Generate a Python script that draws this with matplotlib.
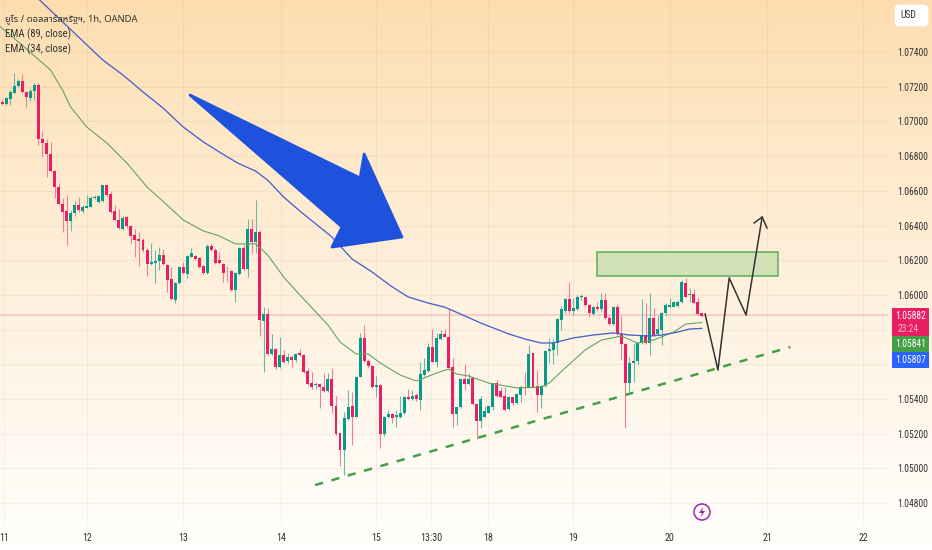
import numpy as np
import matplotlib
matplotlib.use('Agg')
import matplotlib.pyplot as plt
from matplotlib.patches import Polygon, Rectangle, FancyBboxPatch, Circle

# candles, price in 1e-5 units
opens = [107110,107098,107131,107166,107202,107233,107168,107135,107175,107212,
    106901,106878,106812,106716,106624,106524,106484,106426,106470,106518,
    106484,106503,106509,106559,106538,106540,106632,106582,106484,106432,
    106380,106447,106399,106345,106321,106317,106261,106178,106186,106194,
    106230,106173,106090,105971,106067,106163,106121,106221,106226,106211,
    106167,106125,106284,106259,106201,106178,106134,106138,106029,106121,
    106272,106150,106382,106307,106365,105852,105890,105660,105691,105587,
    105656,105620,105644,105625,105664,105656,105560,105495,105479,105489,
    105472,105447,105514,105360,105203,105107,105283,105360,105299,105529,
    105750,105618,105593,105468,105479,105197,105299,105314,105295,105299,
    105318,105410,105399,105424,105395,105537,105562,105702,105616,105747,
    105775,105760,105583,105314,105352,105514,105485,105520,105372,105274,
    105299,105322,105356,105491,105449,105418,105341,105410,105376,105424,
    105472,105468,105664,105475,105423,105475,105677,105683,105725,105855,
    105907,105975,105909,105917,105988,105986,105944,105890,105928,105917,
    105971,105867,105832,105928,105775,105717,105494,105606,105617,105721,
    105769,105721,105869,105773,105798,105894,105932,105932,105936,105957,
    106071,106000,106003,105959,105894]
closes = [107098,107137,107170,107204,107233,107172,107139,107177,107212,106899,
    106874,106810,106716,106624,106522,106478,106426,106474,106518,106490,
    106507,106515,106561,106564,106570,106632,106576,106480,106432,106384,
    106443,106397,106342,106317,106313,106259,106176,106192,106198,106230,
    106176,106086,105975,106071,106163,106125,106226,106240,106207,106163,
    106125,106284,106259,106186,106186,106125,106130,106029,106125,106269,
    106150,106380,106307,106365,105856,105890,105658,105689,105587,105656,
    105616,105641,105625,105660,105654,105556,105487,105472,105489,105472,
    105447,105514,105360,105199,105107,105289,105356,105299,105529,105750,
    105620,105591,105468,105479,105197,105299,105312,105291,105308,105318,
    105414,105399,105418,105399,105543,105568,105698,105616,105750,105775,
    105760,105581,105314,105356,105516,105485,105514,105372,105274,105400,
    105333,105360,105491,105418,105410,105337,105414,105376,105429,105472,
    105468,105660,105472,105424,105475,105679,105686,105731,105859,105917,
    105975,105907,105923,105986,105994,105942,105894,105932,105917,105971,
    105867,105832,105928,105775,105717,105494,105606,105621,105721,105769,
    105721,105869,105769,105802,105898,105940,105940,105961,105961,106076,
    105990,106003,105955,105890,105878]
highs = [107129,107143,107181,107281,107243,107271,107172,107185,107220,107223,
    106947,106897,106883,106720,106643,106557,106576,106490,106543,106566,
    106518,106576,106570,106576,106576,106634,106636,106601,106518,106493,
    106455,106455,106403,106378,106365,106326,106269,106297,106259,106274,
    106263,106178,106163,106077,106167,106192,106230,106269,106230,106217,
    106173,106294,106297,106269,106249,106186,106167,106144,106132,106278,
    106288,106436,106436,106547,106374,105933,105923,105775,105693,105760,
    105683,105664,105654,105664,105687,105660,105577,105558,105499,105491,
    105548,105548,105581,105418,105207,105328,105452,105443,105533,105779,
    105827,105629,105597,105533,105485,105303,105337,105322,105337,105418,
    105418,105456,105452,105433,105616,105635,105721,105802,105779,105798,
    105802,105923,105635,105360,105520,105602,105548,105523,105376,105418,
    105360,105366,105495,105510,105472,105468,105418,105414,105437,105481,
    105558,105712,105668,105567,105481,105683,105750,105744,105865,105936,
    105980,106076,105980,106000,106003,105990,105948,105936,105961,106009,
    106009,105884,105932,105948,105878,105721,105644,105721,105725,105975,
    105955,106009,105923,105884,105903,105951,105980,105967,105971,106086,
    106096,106038,106032,105986,105898]
lows = [107095,107095,107095,107162,107196,107162,107085,107120,107123,106864,
    106793,106682,106710,106557,106518,106365,106288,106370,106455,106480,
    106470,106499,106505,106551,106532,106538,106563,106474,106428,106380,
    106374,106384,106297,106221,106167,106249,106109,106173,106067,106144,
    106171,106019,105971,105956,106063,106121,106096,106217,106201,106153,
    106121,106121,106255,106178,106178,106077,106077,106025,105961,106115,
    106144,106105,106244,106244,105764,105558,105654,105656,105572,105577,
    105610,105610,105587,105616,105648,105552,105481,105456,105456,105347,
    105441,105441,105322,105193,105014,104963,105280,105135,105295,105525,
    105616,105577,105462,105414,105120,105187,105289,105260,105237,105289,
    105314,105395,105395,105391,105337,105533,105558,105612,105587,105741,
    105756,105577,105237,105251,105347,105452,105481,105366,105168,105231,
    105295,105318,105337,105414,105404,105333,105337,105366,105372,105385,
    105424,105462,105462,105327,105346,105471,105606,105602,105654,105798,
    105894,105894,105884,105913,105971,105938,105875,105884,105909,105909,
    105863,105827,105827,105769,105625,105235,105442,105500,105596,105717,
    105717,105654,105763,105769,105711,105884,105928,105928,105932,105951,
    105986,105961,105951,105884,105875]

# moving averages (bar index, price)
ema89_x = [9,25,30,35,40,45,50,56,59,63,66,70,74,82,87,92,97,101,106,110,114,119,126,130,134,137,142,147,152,156,161,164,168,171,174]
ema89_y = [107706,107354,107268,107170,107077,106968,106882,106795,106755,106714,106662,106564,106484,106334,106207,106132,106046,105988,105953,105930,105890,105838,105775,105746,105723,105723,105752,105769,105781,105769,105763,105769,105786,105804,105807]
ema34_x = [-1,4,12,15,17,21,26,31,36,41,45,50,54,58,63,66,70,74,81,84,88,91,94,99,103,108,111,113,116,121,128,134,136,140,145,149,154,158,162,167,170,174]
ema34_y = [107556,107458,107297,107181,107083,106968,106876,106760,106622,106518,106432,106369,106340,106294,106294,106230,106103,106000,105827,105729,105660,105660,105608,105538,105504,105550,105573,105544,105533,105492,105464,105469,105492,105579,105683,105740,105763,105723,105740,105786,105832,105841]

price_ticks = [1.048,1.05,1.052,1.054,1.056,1.058,1.06,1.062,1.064,1.066,1.068,1.07,1.072,1.074]
date_pos = [0.5,21.1,45,69.3,93,106.7,120.8,142,166,190.2,214.1]
date_labels = ['11','12','13','14','15','13:30','18','19','20','21','22']

# drawings on the chart
arrow_x = [46.7,89,90,99.4,82,84.5]
arrow_y = [1.07152,1.06674,1.06812,1.06334,1.06276,1.06392]
zone_x = [148,193]
zone_y = [1.06109,1.06247]
path_x = [174.8,178,180.8,185,189]
path_y = [1.05890,1.05567,1.06098,1.05884,1.06449]
head_x = [187,189,190.2]
head_y = [1.06415,1.06449,1.06386]
trend_x = [77.8,196]
trend_y = [1.04904,1.05700]
last_price = 1.05882

plt.rcParams['font.family'] = ['Roboto Condensed', 'Roboto', 'Noto Sans', 'DejaVu Sans']

UP = '#089a88'
DOWN = '#e91e63'
UP_WICK = '#6db8a8'
DOWN_WICK = '#ee7f9f'
TEXT = '#333333'
SCALE_SIZE = 6.9

fig = plt.figure(figsize=(9.32, 5.5), dpi=100)

# page gradient behind everything
bg = fig.add_axes([0, 0, 1, 1], zorder=0)
rows = np.arange(550)
stops = [0, 140, 280, 400, 549]
rgb = np.zeros((550, 1, 3))
rgb[:, 0, 0] = np.interp(rows, stops, [253, 254, 254, 255, 255])
rgb[:, 0, 1] = np.interp(rows, stops, [221, 232, 240, 247, 255])
rgb[:, 0, 2] = np.interp(rows, stops, [175, 200, 220, 235, 253])
bg.imshow(rgb / 255, aspect='auto')
bg.axis('off')

ax = fig.add_axes([0, 25 / 550, 888 / 932, 525 / 550], zorder=1)
ax.patch.set_alpha(0)
ax.set_xlim(-0.57, 220.3)
ax.set_ylim(1.04674, 1.0770)
for s in ax.spines.values():
    s.set_visible(False)

ax.yaxis.tick_right()
ax.set_yticks(price_ticks)
# 1.05800 sits fully behind the price tags
ax.set_yticklabels(['' if p == 1.058 else '%.5f' % p for p in price_ticks])
ax.tick_params(axis='y', length=0, pad=6.5, labelsize=SCALE_SIZE, labelcolor=TEXT)
ax.set_xticks(date_pos)
ax.set_xticklabels(date_labels)
ax.tick_params(axis='x', length=0, pad=5.5, labelsize=7.2, labelcolor=TEXT)
ax.grid(True, color='#b08a5a', alpha=0.10, lw=0.8)
ax.set_axisbelow(True)

o = np.array(opens) / 1e5
c = np.array(closes) / 1e5
h = np.array(highs) / 1e5
l = np.array(lows) / 1e5
idx = np.arange(len(o))
up = c >= o

ax.axhline(last_price, color='#f4c4bb', lw=1.1, zorder=1.5)
ax.vlines(idx, l, h, colors=np.where(up, UP_WICK, DOWN_WICK), lw=0.8, zorder=2)
ax.bar(idx, np.abs(c - o), bottom=np.minimum(o, c), width=0.74,
       color=np.where(up, UP, DOWN), zorder=3)

ax.plot(ema34_x, np.array(ema34_y) / 1e5, color='#62a463', lw=0.8, zorder=4)
ax.plot(ema89_x, np.array(ema89_y) / 1e5, color='#4763c9', lw=0.95, zorder=4)

ax.add_patch(Polygon(np.column_stack([arrow_x, arrow_y]), closed=True, fc='#1f52dc',
                     ec='#1f52dc', lw=2, joinstyle='round', zorder=5))
ax.add_patch(Rectangle((zone_x[0], zone_y[0]), zone_x[1] - zone_x[0], zone_y[1] - zone_y[0],
                       fc='#cfe0b4', ec='#55ac5a', lw=1.1, alpha=0.95, zorder=5))
ax.plot(trend_x, trend_y, color='#43a047', lw=1.8, ls=(0, (3.3, 3.5)), zorder=5)
ax.plot(path_x, path_y, color='#333333', lw=1.1, zorder=6)
ax.plot(head_x, head_y, color='#333333', lw=1.1, zorder=6)

# overlay in pixels: header text, price tags, icon
top = fig.add_axes([0, 0, 1, 1], zorder=2)
top.set_xlim(0, 932)
top.set_ylim(550, 0)
top.axis('off')

thai = ['Noto Sans Thai', 'Noto Sans', 'DejaVu Sans']
top.text(5, 19, 'ยูโร / ดอลลาร์สหรัฐฯ, 1h, OANDA', fontsize=6.8, color=TEXT, va='center', family=thai)
top.text(5, 34, 'EMA (89, close)', fontsize=7.7, color=TEXT, va='center')
top.text(5, 49, 'EMA (34, close)', fontsize=7.7, color=TEXT, va='center')

top.add_patch(FancyBboxPatch((896, 6), 31, 19, boxstyle='round,pad=0,rounding_size=3',
                             fc='white', ec='white', lw=2))
top.text(900, 15, 'USD', fontsize=SCALE_SIZE, color=TEXT, va='center')

tags = [(308, 28, DOWN), (336, 15.5, '#43a047'), (352, 15.5, '#2962ff')]
for y0, hgt, col in tags:
    top.add_patch(Rectangle((892, y0), 37, hgt, fc=col, ec='none'))
top.text(910.5, 316, '%.5f' % last_price, fontsize=SCALE_SIZE, color='white', va='center', ha='center')
top.text(898, 329, '23:24', fontsize=SCALE_SIZE, color='#f7b6cb', va='center')
top.text(910.5, 344, '1.05841', fontsize=SCALE_SIZE, color='white', va='center', ha='center')
top.text(910.5, 360, '1.05807', fontsize=SCALE_SIZE, color='white', va='center', ha='center')

top.add_patch(Circle((702, 512), 8, fc='none', ec='#9c27b0', lw=1.1))
top.add_patch(Polygon([(703.5, 506.5), (699, 513), (702, 513), (700.5, 517.5), (705, 511), (702, 511)],
                      closed=True, fc='#9c27b0', ec='none'))

fig.savefig('out.png', dpi=100)
